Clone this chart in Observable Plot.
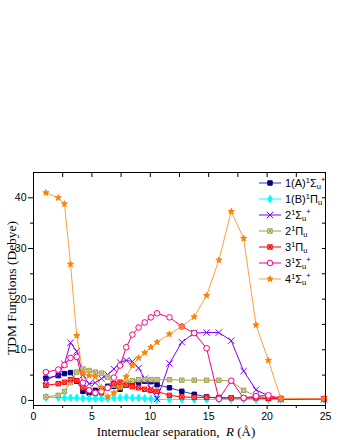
<!DOCTYPE html>
<html>
<head>
<meta charset="utf-8">
<script src="https://cdn.jsdelivr.net/npm/d3@7"></script>
<script src="https://cdn.jsdelivr.net/npm/@observablehq/plot@0.6"></script>
<style>
  html, body { margin: 0; padding: 0; background: white; }
  #wrap { position: relative; width: 340px; height: 440px; overflow: hidden; }
  .lab { position: absolute; font-family: "Liberation Serif", "Times New Roman", serif; color: black; white-space: nowrap; }
  #ylab { left: 12px; top: 288px; font-size: 13.5px; transform: translate(-50%, -50%) rotate(-90deg); }
  #xlab { left: 176px; top: 432px; font-size: 13px; transform: translate(-50%, -50%); }
  #legend { position: absolute; left: 0; top: 0; font-family: "Liberation Sans", Arial, sans-serif; font-size: 11px; color: black; }
  .row { position: absolute; left: 257px; display: flex; align-items: center; height: 14px; white-space: nowrap; }
  .row svg { display: block; margin-right: 2px; }
  sup.s1 { font-size: 7.5px; vertical-align: 4px; line-height: 0; }
  sub.su { font-size: 7.5px; vertical-align: -2px; line-height: 0; }
  sup.sp { font-size: 7.5px; vertical-align: 5px; line-height: 0; }
</style>
</head>
<body>
<div id="wrap">
  <div id="chart"></div>
  <div class="lab" id="ylab">TDM Functions (Debye)</div>
  <div class="lab" id="xlab">Internuclear separation,&nbsp; <i>R</i> (Å)</div>
  <div id="legend"></div>
</div>
<script>
// Internuclear separations (Å)
const R = [1.06,2.12,2.65,3.17,3.70,4.23,4.76,5.29,5.82,6.35,6.88,7.41,7.94,8.47,9.00,9.52,10.05,10.58,11.64,12.70,13.76,14.82,15.87,16.93,17.99,19.05,20.11,21.17,24.87];

// TDM values (Debye)
const s1A_Su = [4.4,4.9,5.3,5.5,3.8,1.8,1.5,2.0,2.3,2.8,2.8,2.2,3.0,3.5,3.6,3.8,3.7,3.1,2.5,1.8,1.2,0.7,0.4,0.5,0.5,0.5,0.4,0.3,0.3];
const s1B_Pu = [0.6,0.6,0.5,0.5,0.5,0.4,0.4,0.4,0.4,0.4,0.5,0.5,0.6,0.5,0.5,0.4,0.3,0.2,0.2,0.2,0.2,0.2,0.2,0.2,0.2,0.2,0.2,0.2,0.2];
const s2_Su  = [4.0,5.1,7.2,11.4,9.7,5.0,3.3,3.5,4.3,5.1,6.2,7.5,7.9,7.7,6.4,4.3,2.3,0.3,7.3,11.5,13.3,13.4,13.4,11.8,5.8,2.1,0.9,0.2,0.2];
const s2_Pu  = [0.7,1.0,1.8,3.5,5.6,6.2,5.9,5.6,5.4,4.6,3.0,2.7,3.6,3.9,4.1,4.1,4.1,4.1,4.1,4.0,4.0,4.0,4.0,3.8,2.0,0.9,0.5,0.3,0.3];
const s3_Pu  = [3.0,3.3,3.6,4.1,3.9,2.5,2.0,1.4,1.5,2.5,3.3,3.6,3.0,2.7,2.5,2.2,2.0,1.8,1.0,0.7,0.6,0.6,0.6,0.5,0.5,0.5,0.4,0.3,0.3];
const s3_Su  = [5.6,6.1,7.0,8.4,8.6,3.5,2.0,1.5,1.8,2.5,4.5,6.9,10.5,13.0,14.4,15.4,16.4,17.2,16.4,14.6,13.3,10.3,0.3,3.9,0.5,0.85,1.0,0.4,0.3];
const s4_Su  = [41.0,40.0,38.8,26.9,12.8,5.3,4.9,4.7,2.5,0.7,1.5,2.5,4.7,6.9,8.4,9.4,10.5,11.5,13.1,14.6,16.5,20.7,27.7,37.3,32.0,14.9,7.9,0.4,0.3];

// Axis ticks
const xMajor = [0,5,10,15,20,25];
const xMinor = [2.5,7.5,12.5,17.5,22.5];
const xTop = [2.5,5,7.5,10,12.5,15,17.5,20,22.5];
const yMajor = [0,10,20,30,40];
const yMinor = [5,15,25,35];
const yRight = [0,5,10,15,20,25,30,35,40];

const SIG = 'Σ<sub class="su">u</sub><sup class="sp">+</sup>';
const PI = 'Π<sub class="su">u</sub>';
const S1 = '<sup class="s1">1</sup>';

// Series definitions (styles)
const series = [
  {label:'1(A)' + S1 + SIG, values:s1A_Su, line:"#3333CC", sym:"square", fill:"#000080", stroke:"#000080", r:2.5},
  {label:'1(B)' + S1 + PI,  values:s1B_Pu, line:"#00FFFF", sym:"diamond", fill:"#00FFFF", stroke:"#00FFFF", r:2.3},
  {label:'2' + S1 + SIG,    values:s2_Su,  line:"#8000FF", sym:"times", fill:"none", stroke:"#8000FF", r:3},
  {label:'2' + S1 + PI,     values:s2_Pu,  line:"#A0A050", sym:"boxx", fill:"#E8E8C8", stroke:"#A0A050", r:2.5},
  {label:'3' + S1 + PI,     values:s3_Pu,  line:"#FF0000", sym:"boxx", fill:"#FF9999", stroke:"#FF0000", r:2.5},
  {label:'3' + S1 + SIG,    values:s3_Su,  line:"#FF0080", sym:"circle", fill:"white", stroke:"#FF0080", r:2.8},
  {label:'4' + S1 + SIG,    values:s4_Su,  line:"#FFA040", sym:"star", fill:"#FF8000", stroke:"#FF8000", r:1.9}
];

const marks = [];
for (const s of series) {
  const data = R.map((r, i) => ({R: r, v: s.values[i]}));
  marks.push(Plot.line(data, {x: "R", y: "v", stroke: s.line, strokeWidth: 1}));
  if (s.sym === "boxx") {
    marks.push(Plot.dot(data, {x: "R", y: "v", symbol: "square", fill: s.fill, stroke: s.stroke, strokeWidth: 1, r: s.r}));
    marks.push(Plot.dot(data, {x: "R", y: "v", symbol: "times", fill: "none", stroke: s.stroke, strokeWidth: 1, r: s.r * 0.85}));
  } else if (s.sym === "times") {
    marks.push(Plot.dot(data, {x: "R", y: "v", symbol: "times", fill: "none", stroke: s.stroke, strokeWidth: 1, r: s.r}));
  } else {
    marks.push(Plot.dot(data, {x: "R", y: "v", symbol: s.sym, fill: s.fill, stroke: s.stroke, strokeWidth: 1, r: s.r}));
  }
}

const noText = () => "";
const chart = Plot.plot({
  width: 340,
  height: 440,
  marginLeft: 33,
  marginRight: 15,
  marginTop: 172,
  marginBottom: 35,
  style: {fontFamily: "'Liberation Sans', Arial, sans-serif", fontSize: "10.5px", color: "black", background: "white", overflow: "visible"},
  x: {domain: [0, 25], label: null},
  y: {domain: [-1, 45], label: null},
  marks: [
    Plot.axisX({ticks: xMajor, tickSize: 4, tickPadding: 3, label: null, fontSize: 10.5}),
    Plot.axisX({ticks: xMinor, tickSize: 3, tickFormat: noText, label: null}),
    Plot.axisX({anchor: "top", ticks: xTop, tickSize: -4, tickFormat: noText, label: null}),
    Plot.axisY({ticks: yMajor, tickSize: 5, tickPadding: 2, label: null, fontSize: 10.5}),
    Plot.axisY({ticks: yMinor, tickSize: 3, tickFormat: noText, label: null}),
    Plot.axisY({anchor: "right", ticks: yRight, tickSize: -4, tickFormat: noText, label: null}),
    ...marks,
    Plot.frame({stroke: "black", strokeWidth: 1})
  ]
});
document.getElementById("chart").appendChild(chart);

// Legend (overlay inside the plot frame)
const legend = document.getElementById("legend");
const rowTops = [183, 199, 215, 231, 247, 263, 279];
const symMap = {square: d3.symbolSquare, diamond: d3.symbolDiamond, times: d3.symbolTimes, circle: d3.symbolCircle, star: d3.symbolStar};
series.forEach((s, i) => {
  const row = document.createElement("div");
  row.className = "row";
  row.style.top = (rowTops[i] - 7) + "px";
  const svg = d3.create("svg").attr("width", 26).attr("height", 14);
  svg.append("line").attr("x1", 2).attr("x2", 24).attr("y1", 7).attr("y2", 7).attr("stroke", s.line).attr("stroke-width", 1);
  const g = svg.append("g").attr("transform", "translate(13,7)");
  const area = Math.PI * s.r * s.r;
  if (s.sym === "boxx") {
    g.append("path").attr("d", d3.symbol(d3.symbolSquare, area)()).attr("fill", s.fill).attr("stroke", s.stroke);
    g.append("path").attr("d", d3.symbol(d3.symbolTimes, area * 0.72)()).attr("fill", "none").attr("stroke", s.stroke);
  } else {
    g.append("path").attr("d", d3.symbol(symMap[s.sym], area)()).attr("fill", s.fill).attr("stroke", s.stroke);
  }
  row.appendChild(svg.node());
  const t = document.createElement("span");
  t.innerHTML = s.label;
  row.appendChild(t);
  legend.appendChild(row);
});
</script>
</body>
</html>
